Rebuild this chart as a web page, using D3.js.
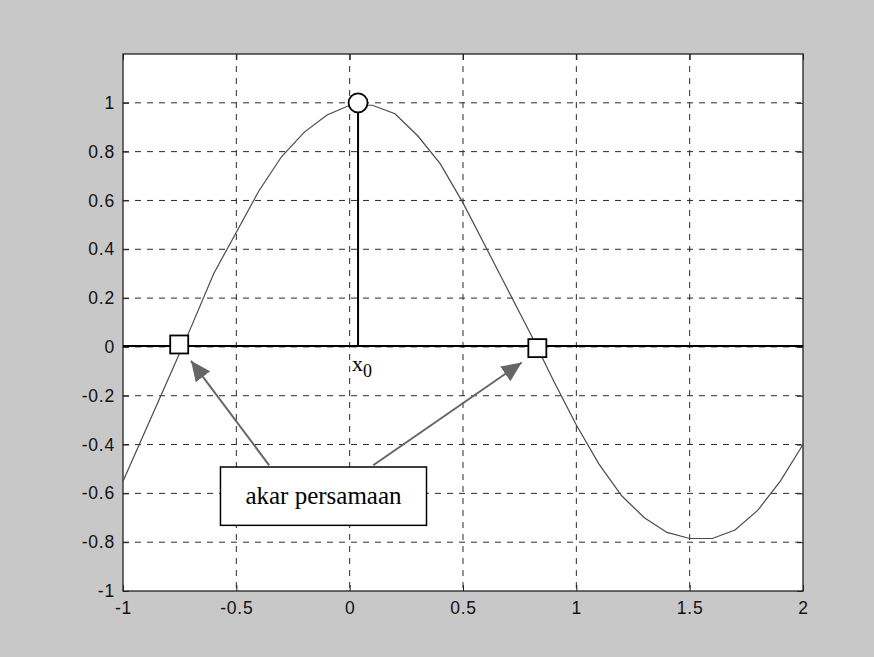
<!DOCTYPE html>
<html lang='en'>
<head>
<meta charset='UTF-8'>
<script src="https://cdnjs.cloudflare.com/ajax/libs/d3/7.8.5/d3.min.js"></script>
<style>
  body { margin: 0; background: #c8c8c8; }
  svg { display: block; }
  .tick text { font: 17.5px 'Liberation Sans', Arial, sans-serif; fill: #111; letter-spacing: 0.8px; }
  .grid line { stroke: #2a2a2a; stroke-dasharray: 6, 6; }
</style>
</head>
<body>
<svg id='chart'></svg>
<script>
'use strict'

// values
const xTicks = [-1, -0.5, 0, 0.5, 1, 1.5, 2]
const yTicks = [-1, -0.8, -0.6, -0.4, -0.2, 0, 0.2, 0.4, 0.6, 0.8, 1]
const curveX = [-1, -0.9, -0.8, -0.7, -0.6, -0.5, -0.4, -0.3, -0.2, -0.1, 0,
  0.1, 0.2, 0.3, 0.4, 0.5, 0.6, 0.7, 0.8, 0.9, 1, 1.1, 1.2, 1.3, 1.4, 1.5,
  1.6, 1.7, 1.8, 1.9, 2]
const curveY = [-0.55, -0.34, -0.13, 0.08, 0.30, 0.47, 0.64, 0.78, 0.88, 0.95, 0.99,
  0.99, 0.955, 0.865, 0.75, 0.59, 0.41, 0.23, 0.05, -0.14, -0.32, -0.48, -0.61, -0.70, -0.76, -0.785,
  -0.785, -0.75, -0.67, -0.55, -0.40]
const rootX = [-0.752, 0.828]
const rootY = [0.01, -0.005]
const startX = 0.037, startY = 1.0
const labelText = 'akar persamaan'
const labelBox = [-0.57, -0.492, 0.339, -0.731]     // x1, y1, x2, y2 in data units
const arrowTails = [[-0.355, -0.485], [0.104, -0.485]]
const arrowTips = [[-0.70, -0.057], [0.759, -0.064]]
const x0Label = [0.01, -0.10]

const width = 874, height = 657
const m = { left: 123, right: 803, top: 54, bottom: 591 }

const svg = d3.select('#chart').attr('width', width).attr('height', height)

svg.append('rect').attr('width', width).attr('height', height).attr('fill', '#c8c8c8')

const x = d3.scaleLinear([-1, 2], [m.left, m.right])
const y = d3.scaleLinear([-1, 1.2], [m.bottom, m.top])

svg.append('rect')
  .attr('x', m.left).attr('y', m.top)
  .attr('width', m.right - m.left).attr('height', m.bottom - m.top)
  .attr('fill', 'white')

// grid
const grid = svg.append('g').attr('class', 'grid')
grid.selectAll('line.v').data(xTicks.slice(1, -1)).enter().append('line')
  .attr('class', 'v')
  .attr('x1', d => x(d)).attr('x2', d => x(d))
  .attr('y1', m.top).attr('y2', m.bottom)
grid.selectAll('line.h').data(yTicks.slice(1)).enter().append('line')
  .attr('class', 'h')
  .attr('x1', m.left).attr('x2', m.right)
  .attr('y1', d => y(d)).attr('y2', d => y(d))

// axes with inward ticks
const fmt = d => String(d)
svg.append('g').attr('transform', `translate(0,${m.bottom})`)
  .call(d3.axisBottom(x).tickValues(xTicks).tickFormat(fmt).tickSize(-6).tickPadding(11))
svg.append('g').attr('transform', `translate(${m.left},0)`)
  .call(d3.axisLeft(y).tickValues(yTicks).tickFormat(fmt).tickSize(-6).tickPadding(8))
svg.append('g').attr('transform', `translate(0,${m.top})`)
  .call(d3.axisTop(x).tickValues(xTicks).tickFormat('').tickSize(-6))
svg.append('g').attr('transform', `translate(${m.right},0)`)
  .call(d3.axisRight(y).tickValues(yTicks).tickFormat('').tickSize(-6))
svg.selectAll('.domain').remove()
svg.selectAll('.tick line').attr('stroke', '#222')

svg.append('rect')
  .attr('x', m.left).attr('y', m.top)
  .attr('width', m.right - m.left).attr('height', m.bottom - m.top)
  .attr('fill', 'none').attr('stroke', '#222').attr('stroke-width', 1.3)

// zero line
svg.append('line')
  .attr('x1', x(-1)).attr('x2', x(2))
  .attr('y1', y(0) - 1).attr('y2', y(0) - 1)
  .attr('stroke', 'black').attr('stroke-width', 2)

// curve
const pts = curveX.map((d, i) => [d, curveY[i]])
svg.append('path')
  .datum(pts)
  .attr('fill', 'none').attr('stroke', '#4a4a4a').attr('stroke-width', 1.2)
  .attr('d', d3.line().x(d => x(d[0])).y(d => y(d[1])))

// stem from x0
svg.append('line')
  .attr('x1', x(startX)).attr('x2', x(startX))
  .attr('y1', y(startY)).attr('y2', y(0))
  .attr('stroke', 'black').attr('stroke-width', 2)
svg.append('circle')
  .attr('cx', x(startX)).attr('cy', y(startY)).attr('r', 9.5)
  .attr('fill', 'white').attr('stroke', 'black').attr('stroke-width', 1.8)

// roots
svg.selectAll('rect.root').data(rootX).enter().append('rect')
  .attr('class', 'root')
  .attr('x', d => x(d) - 9).attr('y', (d, i) => y(rootY[i]) - 9)
  .attr('width', 18).attr('height', 18)
  .attr('fill', 'white').attr('stroke', 'black').attr('stroke-width', 1.8)

// x0 label
const xl = svg.append('text')
  .attr('x', x(x0Label[0])).attr('y', y(x0Label[1]))
  .attr('font-family', "'Liberation Serif', 'Times New Roman', serif")
  .attr('font-size', 22).attr('fill', 'black')
xl.append('tspan').text('x')
xl.append('tspan').attr('dy', 6).attr('font-size', 18).text('0')

// arrows
svg.append('defs').append('marker')
  .attr('id', 'head').attr('markerUnits', 'userSpaceOnUse')
  .attr('viewBox', '0 0 20 18').attr('refX', 20).attr('refY', 9)
  .attr('markerWidth', 20).attr('markerHeight', 18).attr('orient', 'auto')
  .append('path').attr('d', 'M0,0L20,9L0,18Z').attr('fill', '#666')

svg.selectAll('line.arrow').data(arrowTails).enter().append('line')
  .attr('class', 'arrow')
  .attr('x1', d => x(d[0])).attr('y1', d => y(d[1]))
  .attr('x2', (d, i) => x(arrowTips[i][0])).attr('y2', (d, i) => y(arrowTips[i][1]))
  .attr('stroke', '#666').attr('stroke-width', 2)
  .attr('marker-end', 'url(#head)')

// label box
svg.append('rect')
  .attr('x', x(labelBox[0])).attr('y', y(labelBox[1]))
  .attr('width', x(labelBox[2]) - x(labelBox[0]))
  .attr('height', y(labelBox[3]) - y(labelBox[1]))
  .attr('fill', 'white').attr('stroke', 'black').attr('stroke-width', 1.5)
svg.append('text')
  .attr('x', (x(labelBox[0]) + x(labelBox[2])) / 2)
  .attr('y', (y(labelBox[1]) + y(labelBox[3])) / 2 + 8)
  .attr('text-anchor', 'middle')
  .attr('font-family', "'Liberation Serif', 'Times New Roman', serif")
  .attr('font-size', 25).attr('fill', 'black')
  .text(labelText)
</script>
</body>
</html>
